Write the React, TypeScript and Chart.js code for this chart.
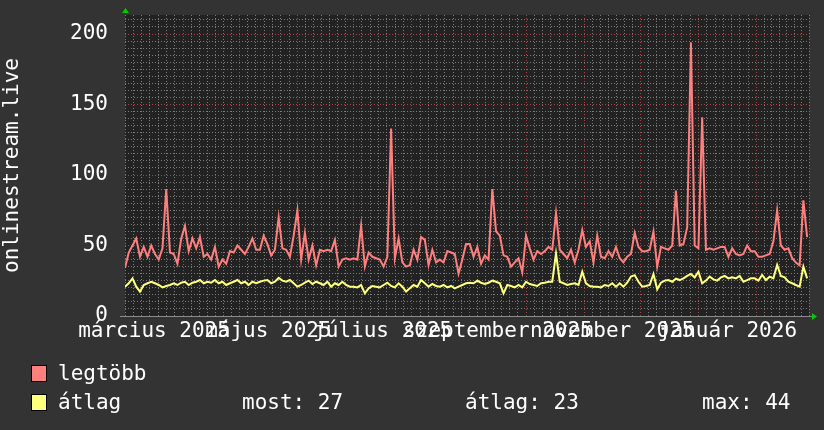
import React, { useEffect, useRef } from "react";
import { Chart, registerables } from "chart.js";

Chart.register(...registerables);

// ---- data ----
const DAY_STEP = 2; // one sample every 2 days, starting 2025-03-01
const TOTAL_DAYS = 365;
const monthStartDays = [0, 31, 61, 92, 122, 153, 184, 214, 245, 275, 306, 337, 365];
const monthLabels = [
  "március 2025", "", "május 2025", "", "július 2025", "",
  "szeptember 2025", "", "november 2025", "", "január 2026", "",
];
const yMax = 213.5;
const yMinorStep = 5;
const yMajorStep = 50;

const seriesNames = ["legtöbb", "átlag"];
const statLabels = ["most", "átlag", "max"];
const statValues = [27, 23, 44];

const maxValues = [
  34, 45, 50, 55, 42, 49, 42, 50, 44, 40,
  48, 90, 45, 44, 37, 55, 64, 46, 55, 48,
  56, 42, 44, 40, 49, 35, 40, 37, 46, 45,
  50, 47, 44, 49, 55, 47, 47, 57, 51, 43,
  47, 70, 48, 47, 42, 57, 75, 40, 59, 40,
  50, 36, 47, 46, 47, 46, 54, 35, 40, 41,
  40, 41, 40, 64, 35, 45, 42, 41, 40, 35,
  42, 133, 41, 55, 38, 35, 36, 47, 40, 56,
  54, 36, 47, 38, 40, 38, 46, 45, 44, 30,
  40, 51, 51, 42, 49, 37, 43, 40, 90, 60,
  57, 43, 42, 35, 38, 41, 31, 57, 48, 40,
  46, 44, 46, 49, 47, 73, 47, 44, 41, 47,
  38, 47, 61, 49, 53, 38, 57, 42, 41, 46,
  42, 49, 41, 38, 42, 44, 59, 49, 46, 46,
  47, 60, 35, 49, 48, 47, 50, 89, 50, 51,
  63, 194, 50, 48, 141, 47, 48, 47, 48, 49,
  49, 42, 48, 44, 43, 44, 50, 46, 46, 42,
  42, 43, 44, 53, 75, 50, 47, 48, 41, 38,
  36, 82, 56,
];

const avgValues = [
  20.8, 23.2, 26.7, 20.8, 17.3, 22, 23.2, 24.3, 23.2, 22,
  20.3, 21.3, 22, 23.2, 22, 23.6, 24.3, 22, 23.6, 24.3,
  25.5, 23.2, 24.3, 23.6, 25.5, 23.2, 24.3, 22, 23.2, 24.3,
  25.5, 23.2, 24.3, 22, 24.3, 23.2, 24.3, 25.1, 25.5, 23.2,
  24.3, 27, 25.1, 24.3, 25.5, 23.2, 20.8, 22, 23.6, 25.1,
  22.7, 24.3, 23.2, 22, 24.3, 20.8, 23.2, 22, 24.3, 22,
  20.8, 20.8, 20.3, 22, 16.1, 19.6, 21.3, 20.8, 20.3, 22,
  23.6, 21.3, 20.3, 23.2, 20.8, 17.3, 19.6, 22, 20.8, 25.5,
  23.2, 20.8, 22.7, 21.3, 20.8, 22, 20.3, 21.3, 19.6, 20.8,
  22, 23.2, 23.6, 23.2, 25.1, 23.6, 22.7, 23.6, 25.1, 24.3,
  23.2, 16.1, 22, 21.3, 20.3, 22, 20.3, 24.3, 22.7, 22,
  21.3, 23.2, 23.6, 24.3, 24.3, 44.4, 24.3, 23.2, 22, 22.7,
  23.2, 22, 31.4, 23.2, 21.3, 20.8, 20.8, 20.3, 22, 21.3,
  23.2, 20.8, 23.2, 20.8, 23.6, 28, 29, 24.3, 20.8, 21.3,
  22, 29.8, 18.9, 23.6, 25.1, 25.5, 24.3, 26.5, 25.5, 26.7,
  28.4, 29.8, 27.4, 31.4, 23.2, 25.1, 27.9, 26, 25.1, 27.4,
  28.4, 26.7, 27.4, 26.7, 28.4, 24.3, 25.5, 26.7, 26.7, 25.1,
  29.1, 25.5, 27.9, 26.7, 36.2, 28.4, 27.4, 24.3, 23.2, 22,
  20.8, 35, 26.7,
];

// ---- styles ----
const FONT = "'DejaVu Sans Mono', monospace";
const OUTER_BG = "#333333";
const PLOT_BG = "#222222";
const GRID_MINOR = "#7c7c7c";
const GRID_MAJOR = "#a84444";
const RED = "#ff7f7f";
const YELLOW = "#ffff7f";
const TEXT = "#ffffff";

function buildXTicks() {
  const ticks: any[] = [];
  for (let m = 0; m < monthStartDays.length - 1; m++) {
    const a = monthStartDays[m];
    const b = monthStartDays[m + 1];
    for (let k = 0; k < 7; k++) {
      ticks.push({ value: a + ((b - a) * k) / 7, kind: k === 0 && a !== 0 ? "major" : "minor", text: "" });
    }
    if (monthLabels[m]) ticks.push({ value: (a + b) / 2, kind: "label", text: monthLabels[m] });
  }
  ticks.push({ value: TOTAL_DAYS, kind: "minor", text: "" });
  ticks.sort((p, q) => p.value - q.value);
  return ticks;
}

function buildYTicks() {
  const ticks: any[] = [];
  for (let v = 0; v <= yMax; v += yMinorStep) {
    ticks.push({
      value: v,
      kind: v === 0 ? "axis" : v % yMajorStep === 0 ? "major" : "minor",
      text: v % yMajorStep === 0 ? String(v) : "",
    });
  }
  return ticks;
}

const gridColor = (ctx: any) => {
  const t = ctx.tick;
  if (!t) return "rgba(0,0,0,0)";
  if (t.kind === "major") return GRID_MAJOR;
  if (t.kind === "minor") return GRID_MINOR;
  return "rgba(0,0,0,0)";
};

const decorPlugin = {
  id: "decor",
  beforeDraw(chart: any) {
    const { ctx, chartArea: a } = chart;
    ctx.save();
    ctx.fillStyle = PLOT_BG;
    ctx.fillRect(a.left, a.top, a.right - a.left, a.bottom - a.top);
    ctx.restore();
  },
  afterDraw(chart: any) {
    const { ctx, chartArea: a } = chart;
    ctx.save();
    ctx.strokeStyle = "#8a8a8a";
    ctx.lineWidth = 1;
    ctx.beginPath();
    ctx.moveTo(a.left - 5, Math.round(a.bottom) + 0.5);
    ctx.lineTo(a.right + 3, Math.round(a.bottom) + 0.5);
    ctx.stroke();
    ctx.fillStyle = "#00cc00";
    ctx.beginPath();
    ctx.moveTo(a.left - 3, a.top - 2);
    ctx.lineTo(a.left + 4, a.top - 2);
    ctx.lineTo(a.left + 0.5, a.top - 7);
    ctx.closePath();
    ctx.fill();
    ctx.beginPath();
    ctx.moveTo(a.right + 3, a.bottom - 3);
    ctx.lineTo(a.right + 3, a.bottom + 4);
    ctx.lineTo(a.right + 8, a.bottom + 0.5);
    ctx.closePath();
    ctx.fill();
    ctx.restore();
  },
};

export default function App() {
  const canvasRef = useRef<HTMLCanvasElement | null>(null);

  useEffect(() => {
    if (!canvasRef.current) return;
    const xTicks = buildXTicks();
    const yTicks = buildYTicks();
    const chart = new Chart(canvasRef.current, {
      type: "line",
      data: {
        datasets: [
          {
            label: seriesNames[0],
            data: maxValues.map((v, i) => ({ x: i * DAY_STEP, y: v })),
            borderColor: RED,
            borderWidth: 2,
            pointRadius: 0,
            tension: 0,
            fill: false,
          },
          {
            label: seriesNames[1],
            data: avgValues.map((v, i) => ({ x: i * DAY_STEP, y: v })),
            borderColor: YELLOW,
            borderWidth: 2,
            pointRadius: 0,
            tension: 0,
            fill: false,
          },
        ],
      },
      options: {
        responsive: false,
        animation: false,
        events: [],
        layout: { padding: { left: 0, right: 15, top: 15, bottom: 0 } },
        plugins: { legend: { display: false }, tooltip: { enabled: false } },
        scales: {
          x: {
            type: "linear",
            min: 0,
            max: TOTAL_DAYS,
            afterBuildTicks: (s: any) => {
              s.ticks = xTicks.map((t) => ({ ...t }));
            },
            afterFit: (s: any) => {
              s.height = 114;
              s.paddingLeft = 0;
              s.paddingRight = 0;
            },
            ticks: {
              autoSkip: false,
              maxRotation: 0,
              minRotation: 0,
              padding: 3,
              color: TEXT,
              font: { family: FONT, size: 21 },
              callback: (_v: any, i: number, ticks: any[]) => (ticks[i] && ticks[i].text) || "",
            },
            grid: { drawTicks: false, color: gridColor, lineWidth: 1 },
            border: { display: false, dash: [1, 2] },
          },
          y: {
            type: "linear",
            min: 0,
            max: yMax,
            afterBuildTicks: (s: any) => {
              s.ticks = yTicks.map((t) => ({ ...t }));
            },
            afterFit: (s: any) => {
              s.width = 125;
              s.paddingTop = 0;
              s.paddingBottom = 0;
            },
            ticks: {
              autoSkip: false,
              padding: 17,
              color: TEXT,
              font: { family: FONT, size: 21 },
              callback: (_v: any, i: number, ticks: any[]) => (ticks[i] && ticks[i].text) || "",
            },
            grid: { drawTicks: false, color: gridColor, lineWidth: 1 },
            border: { display: false, dash: [1, 2] },
            title: {
              display: true,
              text: "onlinestream.live",
              color: TEXT,
              font: { family: FONT, size: 21 },
              padding: 0,
            },
          },
        },
      },
      plugins: [decorPlugin],
    } as any);
    return () => chart.destroy();
  }, []);

  const textStyle: React.CSSProperties = {
    position: "absolute",
    fontFamily: FONT,
    fontSize: 21,
    lineHeight: "24px",
    color: TEXT,
    whiteSpace: "pre",
  };
  const swatch = (color: string, top: number): React.CSSProperties => ({
    position: "absolute",
    left: 31,
    top,
    width: 14,
    height: 15,
    background: color,
    border: "1px solid #000",
  });

  return (
    <div style={{ position: "absolute", left: 0, top: 0, width: 824, height: 430, background: OUTER_BG, overflow: "hidden" }}>
      <canvas ref={canvasRef} width={824} height={430} style={{ display: "block" }} />
      <div style={swatch(RED, 365)} />
      <div style={{ ...textStyle, left: 58, top: 361 }}>{seriesNames[0]}</div>
      <div style={swatch(YELLOW, 394)} />
      <div style={{ ...textStyle, left: 58, top: 390 }}>{seriesNames[1]}</div>
      <div style={{ ...textStyle, left: 242, top: 390 }}>{`${statLabels[0]}: ${statValues[0]}`}</div>
      <div style={{ ...textStyle, left: 465, top: 390 }}>{`${statLabels[1]}: ${statValues[1]}`}</div>
      <div style={{ ...textStyle, left: 702, top: 390 }}>{`${statLabels[2]}: ${statValues[2]}`}</div>
    </div>
  );
}
